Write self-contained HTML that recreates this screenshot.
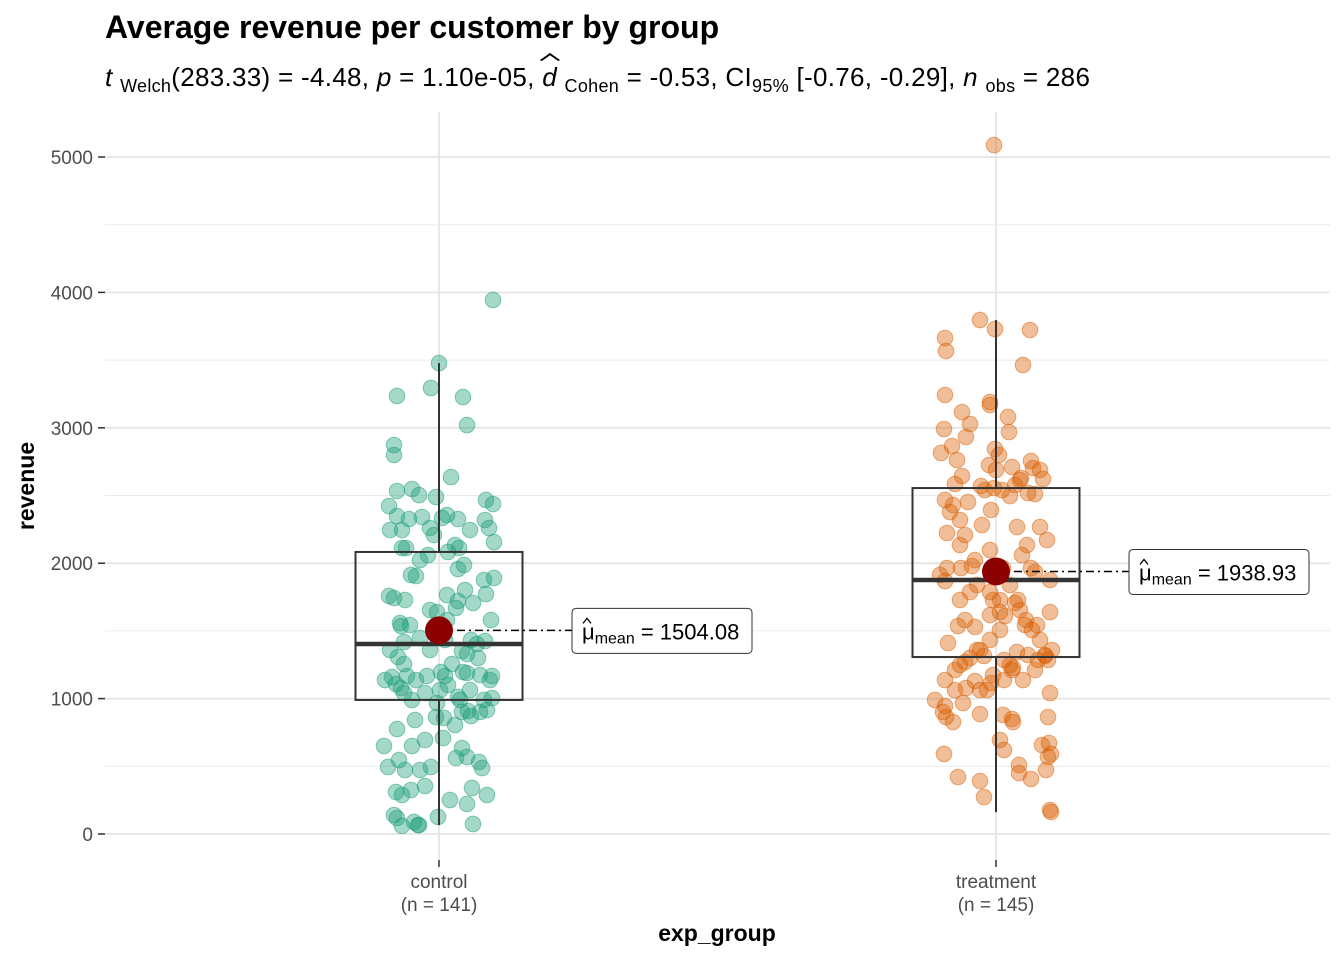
<!DOCTYPE html>
<html><head><meta charset="utf-8"><style>
body{margin:0;background:#fff;width:1344px;height:960px;overflow:hidden;font-family:"Liberation Sans",sans-serif}
#title{position:absolute;left:105px;top:9px;font-size:32px;font-weight:bold;color:#000;white-space:nowrap}
#subtitle{position:absolute;left:105px;top:62px;font-size:26px;color:#000;white-space:nowrap;letter-spacing:0.3px}
#subtitle sub{font-size:18px;vertical-align:-6px}
.hat{position:relative;display:inline-block}
.hat:before{content:"";position:absolute;left:2px;top:-8px;width:10px;height:10px;border-left:2px solid #000;border-top:2px solid #000;transform:rotate(45deg) skew(-10deg,-10deg);transform-origin:center}
</style></head><body>
<div id="title">Average revenue per customer by group</div>
<div id="subtitle"><i>t</i> <sub>Welch</sub>(283.33) = -4.48, <i>p</i> = 1.10e-05, <span class="hat"><i>d</i></span> <sub>Cohen</sub> = -0.53, CI<sub>95%</sub> [-0.76, -0.29], <i>n</i> <sub>obs</sub> = 286</div>
<svg id="chart" width="1344" height="960" style="position:absolute;left:0;top:0"></svg>
<script>
const categories=["control","treatment"];
const groupN=[141,145];
const yTicks=[0,1000,2000,3000,4000,5000];
const controlRevenue=[3944,3478,3294,3235,3227,3020,2873,2799,2636,2533,2548,2503,2489,2467,2437,2422,2348,2326,2341,2334,2356,2326,2319,2260,2245,2260,2208,2112,2112,2112,2156,2060,2083,1957,1987,1913,1905,1876,1891,1758,1743,1765,1772,1721,1706,1639,1669,1558,1580,1580,1536,1543,1418,1359,1307,1255,1447,1433,1425,1351,1329,1433,1403,1255,1300,1159,1108,1078,1167,1137,1167,1196,1167,1196,1189,1174,1137,1167,1041,990,1041,1100,1012,901,990,908,990,1004,864,805,871,901,857,775,967,916,694,709,635,569,487,650,650,546,495,473,561,532,495,325,310,288,354,340,222,288,251,140,118,89,66,126,74,60,66,473,1137,1063,1063,1359,1728,2023,2245,2245,2134,1802,1654,842];
const controlJitter=[54,0,-8,-42,24,28,-45,-45,12,-42,-27,-20,-3,47,54,-50,-42,-30,-17,3,8,19,46,50,-37,-9,-5,-37,-33,20,55,-11,9,19,25,-28,-23,45,55,-50,-45,8,47,19,34,-2,17,-39,8,52,-38,-29,-35,-49,-41,-35,-19,6,46,23,28,32,38,13,39,-47,-43,-38,-32,-23,-12,2,6,24,28,41,51,53,-35,-27,-14,9,19,23,21,29,45,53,-3,16,32,41,5,-42,-2,48,-14,4,23,28,43,-55,-27,-40,-51,-34,17,40,-8,-28,-43,-37,-14,33,28,48,11,-45,-42,-25,-20,-1,34,-37,-21,-19,-54,1,31,-9,-34,-19,-49,31,16,26,-9,-24];
const treatmentRevenue=[5088,3796,3729,3722,3663,3567,3464,3242,3116,3080,3168,3028,3190,2932,2991,2969,2865,2814,2755,2799,2843,2762,2644,2710,2725,2688,2629,2703,2688,2585,2570,2555,2540,2496,2518,2577,2622,2614,2467,2430,2452,2540,2511,2378,2319,2208,2282,2393,2267,2267,2171,2223,2134,2023,2097,2060,2134,1964,1964,1979,1964,1935,1964,1876,1868,1839,1787,1728,1913,1787,1728,1728,1654,1580,1507,1543,1543,1411,1617,1639,1610,1706,1433,1359,1536,1529,1359,1507,1322,1285,1315,1639,1137,1211,1248,1270,1300,1359,1315,1285,1226,1174,1137,1248,1344,1063,1078,1063,1137,1041,990,945,967,1063,1115,1130,1211,1322,1211,1285,901,864,886,879,827,864,849,827,672,591,694,620,569,657,510,450,406,421,391,473,591,273,162,177,1839,1580,1433,1728];
const treatmentJitter=[-2,-16,-1,34,-51,-50,27,-51,-34,12,-6,-26,-6,-30,-52,13,-44,-55,35,3,-1,-39,-34,16,-7,0,25,37,44,-41,-15,-2,6,14,32,19,47,24,-51,-43,-28,-11,39,-46,-36,-31,-14,-5,21,44,51,-49,-36,-21,-6,26,31,-49,-35,-24,7,39,35,54,-51,-19,-6,22,-56,-26,-36,-3,24,30,36,29,41,-48,-6,4,9,19,44,56,-38,-21,-16,4,49,52,49,54,-51,-41,-36,-31,-26,-19,-12,8,17,-3,27,14,21,-41,-30,-16,8,54,-61,-51,-33,-9,-5,-21,16,32,39,42,-53,-50,-16,7,-43,52,16,17,53,-52,4,8,52,46,23,23,35,-38,-16,50,55,-12,55,54,14,-31,-6,4];
const boxLow=[66,162], boxQ1=[990,1307], boxMedian=[1403,1876], boxQ3=[2083,2555], boxHigh=[3478,3796];
const means=[1504.08,1938.93];
const meanLabels=["1504.08","1938.93"];

const svg=document.getElementById('chart');
const NS="http://www.w3.org/2000/svg";
const colors=["#1b9e77","#d95f02"];
const L=105,R=1330,T=112,B=860;
function y(v){return 834-v*0.13540;}
function x(i){return 439+i*557;}
function mk(tag,attrs,name,parent){const e=document.createElementNS(NS,tag);for(const k in attrs)e.setAttribute(k,attrs[k]);


(parent||svg).appendChild(e);return e;}
for(let v=500;v<=5000;v+=1000){mk('line',{x1:L,x2:R,y1:y(v),y2:y(v),stroke:'#ebebeb','stroke-width':1},'minor-gridline');}
yTicks.forEach(v=>{
 mk('line',{x1:L,x2:R,y1:y(v),y2:y(v),stroke:'#e5e5e5','stroke-width':1.8},'major-gridline');
 mk('line',{x1:98,x2:105,y1:y(v),y2:y(v),stroke:'#333','stroke-width':1.5},'y-tick');
 const t=mk('text',{x:93,y:y(v)+7,'text-anchor':'end','font-size':19,fill:'#4d4d4d'},'y-tick-label');t.textContent=v;
});
categories.forEach((c,i)=>{
 mk('line',{x1:x(i),x2:x(i),y1:T,y2:B,stroke:'#e5e5e5','stroke-width':1.8},'x-gridline');
 mk('line',{x1:x(i),x2:x(i),y1:B,y2:B+7,stroke:'#333','stroke-width':1.5},'x-tick');
 const t=mk('text',{x:x(i),y:888,'text-anchor':'middle','font-size':19,fill:'#4d4d4d'},'x-tick-label');t.textContent=c;
 const t2=mk('text',{x:x(i),y:911,'text-anchor':'middle','font-size':19,fill:'#4d4d4d'},'x-tick-count');t2.textContent="(n = "+groupN[i]+")";
});
[[controlRevenue,controlJitter],[treatmentRevenue,treatmentJitter]].forEach(([vals,jit],i)=>{
 const n=Math.min(vals.length,jit.length);
 for(let k=0;k<n;k++){mk('circle',{cx:x(i)+jit[k],cy:y(vals[k]),r:7.8,fill:colors[i],'fill-opacity':0.4,stroke:colors[i],'stroke-opacity':0.5,'stroke-width':1},categories[i]+'-point');}
});
categories.forEach((c,i)=>{
 const hw=83.5;
 mk('line',{x1:x(i),x2:x(i),y1:y(boxHigh[i]),y2:y(boxQ3[i]),stroke:'#333','stroke-width':2},c+'-upper-whisker');
 mk('line',{x1:x(i),x2:x(i),y1:y(boxQ1[i]),y2:y(boxLow[i]),stroke:'#333','stroke-width':2},c+'-lower-whisker');
 mk('rect',{x:x(i)-hw,y:y(boxQ3[i]),width:2*hw,height:y(boxQ1[i])-y(boxQ3[i]),fill:'none',stroke:'#333','stroke-width':2},c+'-box');
 mk('line',{x1:x(i)-hw,x2:x(i)+hw,y1:y(boxMedian[i]),y2:y(boxMedian[i]),stroke:'#333','stroke-width':4.5},c+'-median');
 const lx=[572,1129][i];
 mk('line',{x1:x(i),x2:lx,y1:y(means[i]),y2:y(means[i]),stroke:'#000','stroke-width':1.5,'stroke-dasharray':'8 4 2 4'},c+'-mean-connector');
 mk('circle',{cx:x(i),cy:y(means[i]),r:14,fill:'#8b0000'},c+'-mean-point');
 const g=mk('g',{},c+'-mean-label');
 mk('rect',{x:lx,y:y(means[i])-22,width:180,height:45,rx:4,fill:'#fff',stroke:'#333','stroke-width':1},c+'-mean-label-box',g);
 const t=mk('text',{x:lx+10,y:y(means[i])+9,'font-size':22,fill:'#000'},c+'-mean-label-text',g);
 t.innerHTML='μ<tspan font-size="16" dy="4">mean</tspan><tspan dy="-4"> = '+meanLabels[i]+'</tspan>';
 mk('path',{d:`M${lx+11} ${y(means[i])-7} l4 -5 l4 5`,fill:'none',stroke:'#000','stroke-width':1.3},c+'-mu-hat',g);
});
const yt=mk('text',{x:34,y:486,'text-anchor':'middle','font-size':23,'font-weight':'bold',fill:'#000',transform:'rotate(-90 34 486)'},'y-axis-title');yt.textContent='revenue';
const xt=mk('text',{x:717,y:941,'text-anchor':'middle','font-size':23,'font-weight':'bold',fill:'#000'},'x-axis-title');xt.textContent='exp_group';
</script>
</body></html>
